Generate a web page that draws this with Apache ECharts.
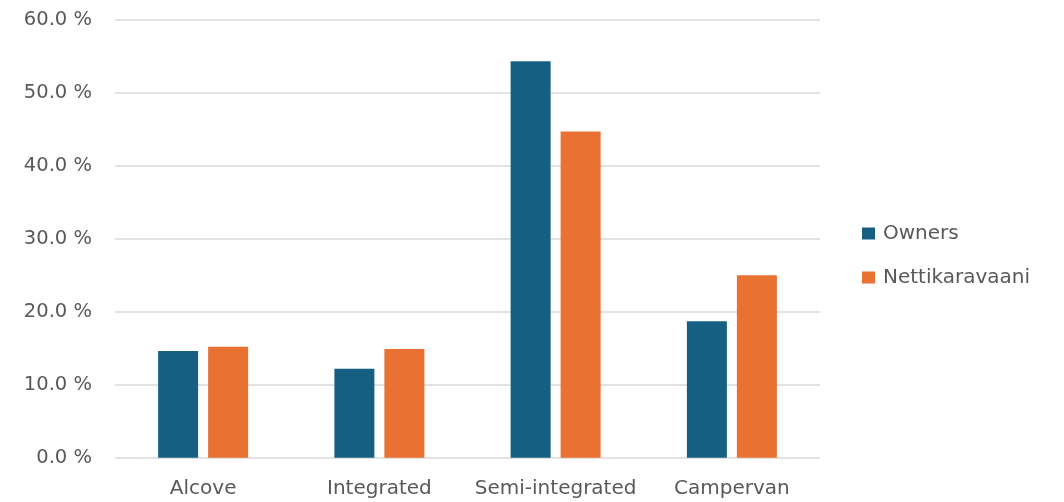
<!DOCTYPE html>
<html><head><meta charset="utf-8">
<script src="https://cdn.jsdelivr.net/npm/echarts@6/dist/echarts.min.js"></script>
<style>html,body{margin:0;padding:0;background:#fff}#c{width:1064px;height:502px}</style>
</head><body><div id="c"></div>
<script>
const categories = ["Alcove", "Integrated", "Semi-integrated", "Campervan"];
const owners = [14.6, 12.2, 54.3, 18.7];
const nettikaravaani = [15.2, 14.9, 44.7, 25.0];
const seriesNames = ["Owners", "Nettikaravaani"];
const yTicks = [0, 10, 20, 30, 40, 50, 60];

const chart = echarts.init(document.getElementById('c'));
const font = "'DejaVu Sans', sans-serif";
chart.setOption({
  animation: false,
  textStyle: {fontFamily: font},
  grid: {left: 115, right: 244, top: 19.7, bottom: 44.3},
  legend: {
    orient: 'vertical', left: 862, top: 223.5, padding: 0,
    itemWidth: 13, itemHeight: 12, itemGap: 24,
    icon: 'rect',
    textStyle: {fontSize: 20, lineHeight: 20, color: '#595959', fontFamily: font, padding: [0, 0, 0, 3]},
    data: seriesNames
  },
  xAxis: {
    type: 'category', data: categories,
    axisLine: {show: false}, axisTick: {show: false},
    axisLabel: {interval: 0, fontSize: 20, color: '#595959', margin: 21, fontFamily: font}
  },
  yAxis: {
    type: 'value', min: yTicks[0], max: yTicks[yTicks.length-1], interval: 10,
    axisLine: {show: false}, axisTick: {show: false},
    splitLine: {lineStyle: {color: '#d9d9d9', width: 1.5}},
    axisLabel: {fontSize: 19.5, color: '#595959', margin: 23, fontFamily: font,
      formatter: v => v.toFixed(1) + ' %'}
  },
  series: [
    {name: seriesNames[0], type: 'bar', data: owners, barWidth: 40, barGap: '25%',
     itemStyle: {color: '#156082'}},
    {name: seriesNames[1], type: 'bar', data: nettikaravaani, barWidth: 40, barGap: '25%',
     itemStyle: {color: '#E97132'}}
  ]
});
</script></body></html>
